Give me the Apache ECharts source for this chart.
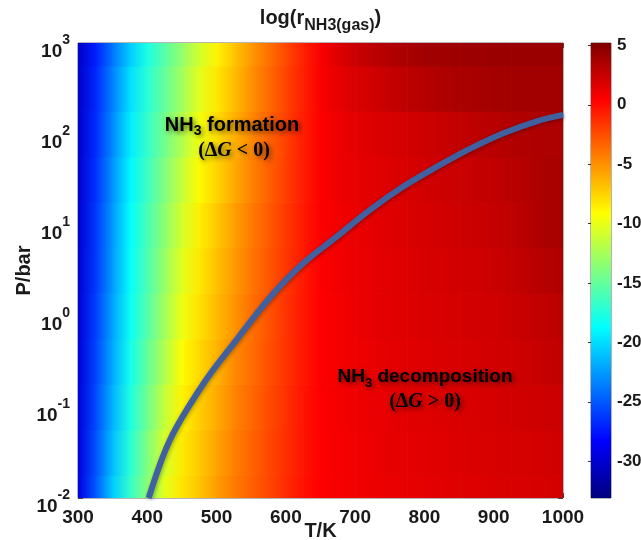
<!DOCTYPE html>
<html>
<head>
<meta charset="utf-8">
<script src="https://cdn.jsdelivr.net/npm/echarts@6/dist/echarts.min.js"></script>
<style>
  html, body { margin: 0; padding: 0; background: #fff; }
  #chart { width: 641px; height: 540px; }
</style>
</head>
<body>
<div id="chart"></div>
<script>
// Temperature grid (K)
const temperatures = [300, 325, 350, 375, 400, 425, 450, 475, 500, 525, 550, 575, 600, 625, 650,
  675, 700, 725, 750, 775, 800, 825, 850, 875, 900, 925, 950, 975, 1000];

// Pressure grid (bar), half-decade steps from 1e-2 to 1e3
const pressures = [0.01, 0.0316, 0.1, 0.316, 1, 3.16, 10, 31.6, 100, 316, 1000];

// log(r_NH3(gas)) — one row per pressure (low to high), one value per temperature
const rowP_1e_2 = [-29.5, -25.1, -20.6, -16.8, -13.5, -10.1, -8.2, -6.9, -5.5, -4.2, -3.2, -2.2, -1.2, -0.2, 0.5,
  0.7, 0.9, 1.1, 1.2, 1.3, 1.4, 1.5, 1.6, 1.7, 1.8, 1.9, 1.9, 2.0, 2.1];
const rowP_3e_2 = [-29.6, -25.3, -21.1, -17.2, -13.9, -10.7, -8.4, -7.1, -5.7, -4.4, -3.3, -2.3, -1.3, -0.3, 0.5,
  0.7, 0.9, 1.1, 1.3, 1.4, 1.5, 1.6, 1.7, 1.8, 1.9, 2.0, 2.0, 2.1, 2.2];
const rowP_1e_1 = [-29.7, -25.6, -21.5, -17.7, -14.5, -11.3, -8.7, -7.3, -6.0, -4.6, -3.5, -2.4, -1.4, -0.3, 0.5,
  0.8, 1.0, 1.2, 1.3, 1.5, 1.6, 1.7, 1.8, 1.9, 2.0, 2.1, 2.2, 2.3, 2.4];
const rowP_3e_1 = [-29.8, -25.8, -21.9, -18.1, -15.0, -12.0, -9.1, -7.7, -6.3, -4.8, -3.7, -2.6, -1.5, -0.4, 0.5,
  0.8, 1.0, 1.2, 1.4, 1.5, 1.7, 1.8, 1.9, 2.0, 2.1, 2.2, 2.4, 2.6, 2.7];
const rowP_1e0 = [-29.9, -26.0, -22.1, -18.4, -15.5, -12.6, -9.8, -8.0, -6.6, -5.2, -3.8, -2.7, -1.5, -0.4, 0.5,
  0.8, 1.1, 1.3, 1.5, 1.6, 1.8, 1.9, 2.0, 2.1, 2.2, 2.4, 2.6, 2.8, 3.0];
const rowP_3e0 = [-30.0, -26.2, -22.4, -18.6, -15.8, -13.0, -10.2, -8.3, -6.8, -5.4, -4.0, -2.8, -1.6, -0.5, 0.5,
  0.9, 1.1, 1.3, 1.5, 1.7, 1.9, 2.0, 2.1, 2.2, 2.4, 2.6, 2.9, 3.2, 3.4];
const rowP_1e1 = [-30.1, -26.3, -22.5, -18.7, -16.0, -13.4, -10.7, -8.6, -7.1, -5.6, -4.2, -3.0, -1.7, -0.5, 0.5,
  0.9, 1.2, 1.4, 1.6, 1.8, 2.0, 2.1, 2.3, 2.4, 2.6, 2.8, 3.2, 3.6, 3.7];
const rowP_3e1 = [-30.2, -26.5, -22.7, -19.0, -16.4, -13.8, -11.3, -9.0, -7.5, -6.0, -4.5, -3.2, -1.9, -0.6, 0.5,
  1.0, 1.3, 1.5, 1.7, 1.9, 2.1, 2.3, 2.4, 2.6, 2.8, 3.0, 3.3, 3.6, 3.7];
const rowP_1e2 = [-30.3, -26.7, -23.1, -19.4, -16.8, -14.4, -12.0, -9.6, -7.9, -6.3, -4.7, -3.3, -2.0, -0.6, 0.5,
  1.1, 1.4, 1.7, 1.9, 2.1, 2.3, 2.5, 2.7, 2.9, 3.1, 3.3, 3.4, 3.5, 3.5];
const rowP_3e2 = [-30.4, -26.9, -23.4, -19.9, -17.2, -14.9, -12.6, -10.2, -8.3, -6.7, -5.0, -3.6, -2.1, -0.7, 0.6,
  1.3, 1.8, 2.2, 2.6, 2.9, 3.2, 3.4, 3.6, 3.7, 3.8, 3.9, 3.9, 3.9, 3.9];
const rowP_1e3 = [-30.5, -27.2, -23.9, -20.6, -17.7, -15.4, -13.1, -10.8, -8.7, -7.0, -5.3, -3.8, -2.3, -0.8, 0.6,
  1.6, 2.4, 2.9, 3.3, 3.6, 3.9, 4.0, 4.1, 4.1, 4.2, 4.2, 4.2, 4.2, 4.2];
const logRate = [rowP_1e_2, rowP_3e_2, rowP_1e_1, rowP_3e_1, rowP_1e0, rowP_3e0,
  rowP_1e1, rowP_3e1, rowP_1e2, rowP_3e2, rowP_1e3];

// ΔG = 0 boundary (T in K, P in bar)
const boundaryT = [402, 433, 481, 529, 577, 625, 673, 721, 769, 818, 866, 914, 962, 1000];
const boundaryP = [0.0100, 0.044, 0.18, 0.55, 1.6, 3.8, 7.4, 14.6, 26.3, 43.7, 69, 102, 138, 162];

// Colour scale limits and colour bar tick labels
const colorMin = -33.1;
const colorMax = 5.2;
const colorTicks = [5, 0, -5, -10, -15, -20, -25, -30];

// Jet colour map
const jetStops = [
  [0.000, [0, 0, 128]],
  [0.125, [0, 0, 255]],
  [0.375, [0, 255, 255]],
  [0.625, [255, 255, 0]],
  [0.875, [255, 0, 0]],
  [1.000, [128, 0, 0]]
];
function jet(v) {
  let f = (v - colorMin) / (colorMax - colorMin);
  f = Math.max(0, Math.min(1, f));
  for (let k = 0; k < jetStops.length - 1; k++) {
    const [f0, c0] = jetStops[k];
    const [f1, c1] = jetStops[k + 1];
    if (f <= f1) {
      const t = (f - f0) / (f1 - f0);
      const c = c0.map((a, n) => Math.round(a + (c1[n] - a) * t));
      return 'rgb(' + c.join(',') + ')';
    }
  }
  return 'rgb(128,0,0)';
}

// Cells: each spans two neighbouring temperatures and a pressure band around its row
const cells = [];
pressures.forEach((p, j) => {
  const lo = j === 0 ? p : Math.sqrt(p * pressures[j - 1]);
  const hi = j === pressures.length - 1 ? p : Math.sqrt(p * pressures[j + 1]);
  for (let i = 0; i < temperatures.length - 1; i++) {
    cells.push([temperatures[i], temperatures[i + 1], lo, hi, logRate[j][i], logRate[j][i + 1]]);
  }
});

const boundary = boundaryT.map((t, i) => [t, boundaryP[i]]);

const FONT = '"Liberation Sans", Arial, sans-serif';
const SERIF = '"Liberation Serif", "DejaVu Serif", serif';
const INK = '#1a1a1a';

const shadow = { textShadowColor: 'rgba(0,0,0,0.55)', textShadowBlur: 5, textShadowOffsetX: 2, textShadowOffsetY: 2 };
function rt(size, extra) {
  return Object.assign({ fontFamily: FONT, fontWeight: 'bold', fontSize: size, color: '#000', lineHeight: size + 2, verticalAlign: 'top' }, shadow, extra || {});
}

const chart = echarts.init(document.getElementById('chart'), null, { renderer: 'canvas' });

const option = {
  animation: false,
  backgroundColor: '#fff',
  title: {
    text: '{a|log(r}{s|NH3(gas)}{a|)}',
    left: 'center',
    top: 3,
    textStyle: {
      rich: {
        a: { fontFamily: FONT, fontWeight: 'bold', fontSize: 20, color: INK, verticalAlign: 'top', lineHeight: 22 },
        s: { fontFamily: FONT, fontWeight: 'bold', fontSize: 16, color: INK, verticalAlign: 'top', lineHeight: 16, padding: [10, 0, 0, 0] }
      }
    }
  },
  grid: [
    { left: 78, top: 43, width: 485, height: 455, outerBoundsMode: 'none', containLabel: false,
      show: true, borderColor: '#6a6a6a', borderWidth: 1, backgroundColor: 'transparent' },
    { left: 591, top: 43, width: 20, height: 455, outerBoundsMode: 'none', containLabel: false,
      show: true, borderColor: '#6a6a6a', borderWidth: 1, backgroundColor: 'transparent' }
  ],
  xAxis: [
    {
      type: 'value', gridIndex: 0, min: 300, max: 1000, interval: 100,
      name: 'T/K', nameLocation: 'middle', nameGap: 23, nameMoveOverlap: false,
      nameTextStyle: { fontFamily: FONT, fontWeight: 'bold', fontSize: 20, color: INK, verticalAlign: 'top' },
      axisLine: { show: false },
      axisTick: { show: true, inside: true, length: 5, lineStyle: { color: '#444' } },
      axisLabel: { fontFamily: FONT, fontWeight: 'bold', fontSize: 19, color: INK, margin: 10, formatter: v => String(v) },
      splitLine: { show: false }
    },
    {
      type: 'value', gridIndex: 0, position: 'top', min: 300, max: 1000, interval: 100,
      axisLine: { show: false },
      axisTick: { show: true, inside: true, length: 5, lineStyle: { color: '#444' } },
      axisLabel: { show: false }, splitLine: { show: false }
    },
    {
      type: 'value', gridIndex: 1, min: 0, max: 1, show: false
    }
  ],
  yAxis: [
    {
      type: 'log', logBase: 10, gridIndex: 0, min: 0.01, max: 1000,
      name: 'P/bar', nameLocation: 'middle', nameGap: 44, nameRotate: 90, nameMoveOverlap: false,
      nameTextStyle: { fontFamily: FONT, fontWeight: 'bold', fontSize: 20, color: INK },
      axisLine: { show: false },
      axisTick: { show: true, inside: true, length: 5, lineStyle: { color: '#444' } },
      axisLabel: {
        margin: 8,
        formatter: v => '{b|10}{e|' + Math.round(Math.log10(v)) + '}',
        rich: {
          b: { fontFamily: FONT, fontWeight: 'bold', fontSize: 19, color: INK, verticalAlign: 'top', lineHeight: 19, padding: [9, 0, 0, 0] },
          e: { fontFamily: FONT, fontWeight: 'bold', fontSize: 14, color: INK, verticalAlign: 'top', lineHeight: 14 }
        }
      },
      splitLine: { show: false }
    },
    {
      type: 'log', logBase: 10, gridIndex: 0, min: 0.01, max: 1000, position: 'right',
      axisLine: { show: false },
      axisTick: { show: true, inside: true, length: 5, lineStyle: { color: '#444' } },
      axisLabel: { show: false }, splitLine: { show: false }
    },
    {
      type: 'value', gridIndex: 1, min: colorMin, max: colorMax, position: 'right',
      axisLine: { show: false },
      axisTick: { show: true, inside: true, length: 3, lineStyle: { color: '#333' }, customValues: colorTicks },
      axisLabel: { fontFamily: FONT, fontWeight: 'bold', fontSize: 17, color: INK, margin: 6, customValues: colorTicks },
      splitLine: { show: false }
    }
  ],
  series: [
    {
      name: 'logr',
      type: 'custom',
      xAxisIndex: 0, yAxisIndex: 0,
      data: cells,
      encode: { x: [0, 1], y: [2, 3] },
      silent: true,
      clip: true,
      z: 1,
      renderItem(params, api) {
        const a = api.coord([api.value(0), api.value(3)]);
        const b = api.coord([api.value(1), api.value(2)]);
        return {
          type: 'rect',
          shape: { x: a[0], y: a[1], width: b[0] - a[0] + 0.7, height: b[1] - a[1] + 0.7 },
          style: {
            fill: new echarts.graphic.LinearGradient(0, 0, 1, 0, [
              { offset: 0, color: jet(api.value(4)) },
              { offset: 1, color: jet(api.value(5)) }
            ])
          }
        };
      }
    },
    {
      name: 'boundary',
      type: 'line',
      xAxisIndex: 0, yAxisIndex: 0,
      data: boundary,
      smooth: 0.35,
      symbol: 'none',
      clip: true,
      z: 5,
      lineStyle: { color: '#40609f', width: 6, shadowColor: 'rgba(0,0,0,0.35)', shadowBlur: 4, shadowOffsetX: 1, shadowOffsetY: 1 }
    },
    {
      name: 'colorbar',
      type: 'custom',
      xAxisIndex: 2, yAxisIndex: 2,
      data: [[0, 1, colorMin, colorMax]],
      encode: { x: [0, 1], y: [2, 3] },
      silent: true,
      renderItem(params, api) {
        const a = api.coord([api.value(0), api.value(3)]);
        const b = api.coord([api.value(1), api.value(2)]);
        return {
          type: 'rect',
          shape: { x: a[0], y: a[1], width: b[0] - a[0], height: b[1] - a[1] },
          style: {
            fill: new echarts.graphic.LinearGradient(0, 0, 0, 1,
              jetStops.slice().reverse().map(([f, c]) => ({ offset: 1 - f, color: 'rgb(' + c.join(',') + ')' })))
          }
        };
      }
    }
  ],
  graphic: [
    {
      type: 'text', x: 232, y: 126, z: 10,
      style: {
        text: '{b|NH}{s|3}{b| formation}',
        align: 'center', verticalAlign: 'middle', textAlign: 'center', textVerticalAlign: 'middle',
        rich: { b: rt(20), s: rt(14, { padding: [9, 0, 0, 0], lineHeight: 14 }) }
      }
    },
    {
      type: 'text', x: 234, y: 152, z: 10,
      style: {
        text: '{p|(Δ}{g|G}{p| < 0)}',
        align: 'center', verticalAlign: 'middle', textAlign: 'center', textVerticalAlign: 'middle',
        rich: { p: rt(20, { fontFamily: SERIF }), g: rt(20, { fontFamily: SERIF, fontStyle: 'italic' }) }
      }
    },
    {
      type: 'text', x: 425, y: 378, z: 10,
      style: {
        text: '{b|NH}{s|3}{b| decomposition}',
        align: 'center', verticalAlign: 'middle', textAlign: 'center', textVerticalAlign: 'middle',
        rich: { b: rt(19), s: rt(13, { padding: [9, 0, 0, 0], lineHeight: 13 }) }
      }
    },
    {
      type: 'text', x: 425, y: 403, z: 10,
      style: {
        text: '{p|(Δ}{g|G}{p| > 0)}',
        align: 'center', verticalAlign: 'middle', textAlign: 'center', textVerticalAlign: 'middle',
        rich: { p: rt(20, { fontFamily: SERIF }), g: rt(20, { fontFamily: SERIF, fontStyle: 'italic' }) }
      }
    }
  ]
};

chart.setOption(option);
</script>
</body>
</html>
